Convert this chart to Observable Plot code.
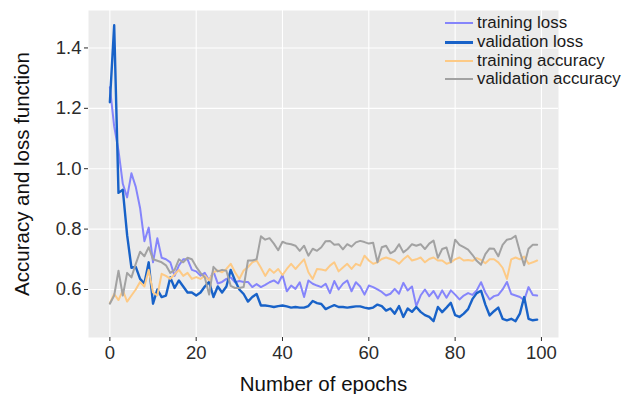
<!DOCTYPE html>
<html><head><meta charset="utf-8">
<script src="https://cdn.jsdelivr.net/npm/d3@7"></script>
<script src="https://cdn.jsdelivr.net/npm/@observablehq/plot@0.6"></script>
<style>
body{margin:0;background:#fff;}
#wrap{position:relative;width:635px;height:394px;font-family:"Liberation Sans",Arial,sans-serif;}
#legend{position:absolute;left:445px;top:14px;font-size:16.9px;color:#1a1a1a;}
.row{display:flex;align-items:center;height:18.7px;white-space:nowrap;}
.sw{width:28px;margin-right:4px;}
</style></head><body><div id="wrap"><div id="legend"></div></div>
<script>
const trainingLoss=[1.27,1.14,1.06,0.95,0.905,0.985,0.94,0.87,0.76,0.805,0.69,0.77,0.705,0.70,0.69,0.645,0.68,0.70,0.70,0.665,
0.66,0.646,0.655,0.63,0.66,0.62,0.625,0.635,0.64,0.624,0.628,0.625,0.625,0.608,0.618,0.608,0.615,0.624,0.63,0.62,
0.648,0.594,0.613,0.602,0.624,0.575,0.63,0.619,0.613,0.608,0.619,0.588,0.628,0.60,0.619,0.63,0.594,0.624,0.61,0.583,
0.613,0.608,0.60,0.592,0.58,0.586,0.602,0.586,0.622,0.597,0.61,0.545,0.58,0.60,0.578,0.595,0.57,0.597,0.573,0.597,
0.583,0.567,0.58,0.588,0.582,0.597,0.624,0.59,0.567,0.578,0.582,0.60,0.625,0.585,0.58,0.575,0.565,0.608,0.582,0.58];
const validationLoss=[1.22,1.475,0.92,0.93,0.78,0.672,0.675,0.635,0.62,0.69,0.553,0.60,0.575,0.58,0.64,0.605,0.63,0.61,0.59,0.59,
0.58,0.59,0.61,0.625,0.575,0.61,0.59,0.61,0.665,0.63,0.60,0.585,0.56,0.575,0.585,0.547,0.547,0.545,0.542,0.545,
0.547,0.544,0.54,0.542,0.54,0.54,0.545,0.562,0.555,0.552,0.535,0.542,0.548,0.542,0.542,0.54,0.542,0.544,0.544,0.54,
0.537,0.54,0.55,0.545,0.53,0.537,0.52,0.545,0.509,0.537,0.526,0.542,0.526,0.515,0.509,0.495,0.542,0.525,0.54,0.556,
0.515,0.509,0.52,0.535,0.568,0.588,0.596,0.55,0.514,0.528,0.54,0.503,0.498,0.503,0.495,0.52,0.575,0.503,0.498,0.50];
const trainingAccuracy=[0.555,0.585,0.565,0.597,0.56,0.58,0.60,0.625,0.61,0.665,0.59,0.58,0.652,0.645,0.635,0.65,0.665,0.645,0.655,0.635,
0.641,0.635,0.646,0.63,0.657,0.663,0.657,0.668,0.685,0.657,0.635,0.663,0.674,0.69,0.696,0.672,0.645,0.668,0.655,0.668,
0.648,0.668,0.685,0.668,0.684,0.70,0.657,0.635,0.668,0.666,0.663,0.679,0.69,0.66,0.673,0.685,0.668,0.685,0.679,0.712,
0.696,0.685,0.69,0.701,0.706,0.701,0.696,0.685,0.70,0.712,0.696,0.70,0.706,0.69,0.701,0.706,0.696,0.696,0.685,0.69,
0.70,0.706,0.696,0.698,0.695,0.704,0.698,0.687,0.70,0.70,0.69,0.672,0.635,0.70,0.706,0.70,0.709,0.685,0.69,0.696];
const validationAccuracy=[0.553,0.58,0.662,0.58,0.655,0.64,0.685,0.725,0.71,0.74,0.70,0.695,0.69,0.68,0.655,0.665,0.70,0.69,0.705,0.70,
0.675,0.655,0.64,0.583,0.675,0.66,0.665,0.662,0.612,0.605,0.605,0.608,0.696,0.696,0.70,0.776,0.765,0.77,0.752,0.73,
0.758,0.752,0.75,0.745,0.728,0.745,0.712,0.735,0.728,0.74,0.76,0.761,0.748,0.75,0.733,0.75,0.742,0.756,0.761,0.757,
0.752,0.755,0.69,0.74,0.745,0.72,0.728,0.75,0.723,0.734,0.75,0.745,0.75,0.734,0.752,0.762,0.705,0.734,0.739,0.69,
0.765,0.748,0.74,0.732,0.715,0.695,0.682,0.717,0.736,0.735,0.71,0.748,0.765,0.768,0.778,0.725,0.68,0.735,0.748,0.748];

const seriesNames=["training loss","validation loss","training accuracy","validation accuracy"];
const seriesColors=["#8585fb","#1862c8","#fdca86","#a2a2a2"];
const seriesWidths=[2,2.4,2,2];
const legendWidths=[2,3,2,2];
const xTicks=[0,20,40,60,80,100];
const yTicks=[0.6,0.8,1.0,1.2,1.4];
const xLabel="Number of epochs";
const yLabel="Accuracy and loss function";

const allSeries=[trainingLoss,validationLoss,trainingAccuracy,validationAccuracy];
const tables=allSeries.map((arr,k)=>arr.map((v,i)=>({epoch:i,value:v,series:seriesNames[k]})));

const chart=Plot.plot({
  width:635,height:394,marginLeft:88,marginRight:77,marginTop:10,marginBottom:57,
  style:{fontFamily:'"Liberation Sans",Arial,sans-serif',fontSize:"18px",color:"#2b2b2b",background:"transparent"},
  x:{domain:[-4.95,103.95]},
  y:{domain:[0.441,1.524]},
  marks:[
    Plot.frame({fill:"#ebebeb",stroke:null}),
    Plot.gridX(xTicks,{stroke:"#ffffff",strokeOpacity:1,strokeWidth:1.1}),
    Plot.gridY(yTicks,{stroke:"#ffffff",strokeOpacity:1,strokeWidth:1.1}),
    Plot.axisX(xTicks,{tickSize:4,tickPadding:4,fontSize:18.5,label:null}),
    Plot.axisY(yTicks,{tickSize:4,tickPadding:3,fontSize:18.5,tickFormat:d3.format(".1f"),label:null}),
    Plot.axisX([],{tickSize:0,fontSize:20.5,fill:"#111",label:xLabel,labelAnchor:"center",labelArrow:"none",labelOffset:53}),
    Plot.axisY([],{tickSize:0,fontSize:20.5,fill:"#111",label:yLabel,labelAnchor:"center",labelArrow:"none",labelOffset:74}),
    ...tables.map((t,k)=>Plot.line(t,{x:"epoch",y:"value",stroke:seriesColors[k],strokeWidth:seriesWidths[k],strokeLinejoin:"round"}))
  ]
});
document.getElementById("wrap").prepend(chart);

const leg=document.getElementById("legend");
seriesNames.forEach((n,k)=>{
  const r=document.createElement("div");r.className="row";
  const s=document.createElement("div");s.className="sw";s.style.height=legendWidths[k]+"px";s.style.backgroundColor=seriesColors[k];
  const t=document.createElement("span");t.textContent=n;
  r.append(s,t);leg.append(r);
});
</script></body></html>
